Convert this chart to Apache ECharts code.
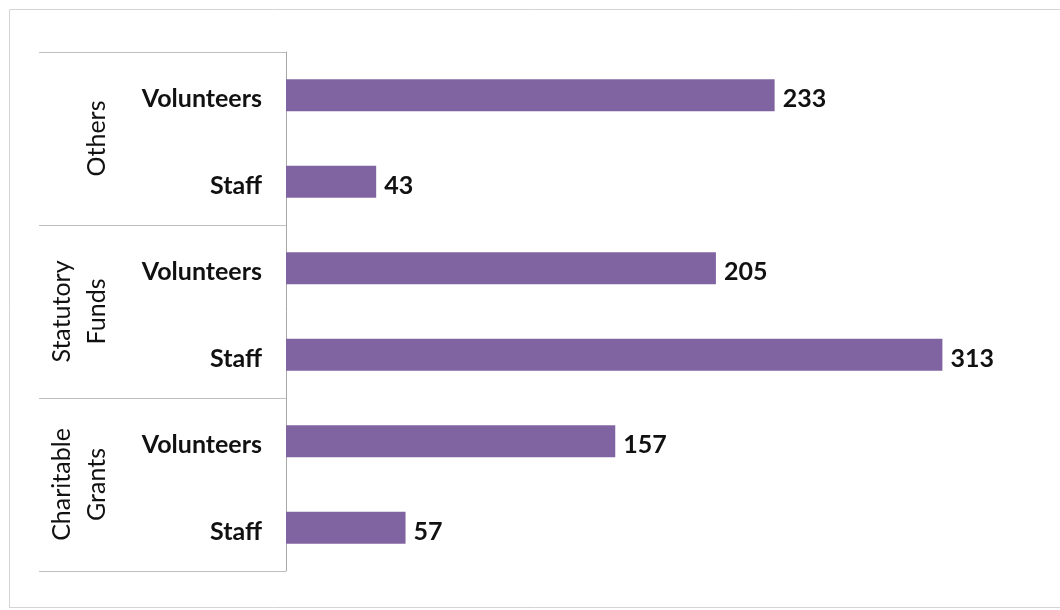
<!DOCTYPE html>
<html>
<head>
<meta charset="utf-8">
<script src="https://cdn.jsdelivr.net/npm/echarts@6/dist/echarts.min.js"></script>
<style>
  html, body { margin: 0; padding: 0; background: #fff; }
  #chart { width: 1060px; height: 610px; }
</style>
</head>
<body>
<div id="chart"></div>
<script>
// Bottom-to-top order (category axis runs upward)
const categories = ['Staff', 'Volunteers', 'Staff', 'Volunteers', 'Staff', 'Volunteers'];
const groups = ['Charitable\nGrants', 'Statutory\nFunds', 'Others'];
const values = [57, 157, 313, 205, 43, 233];

const FONT = 'Lato';
const chart = echarts.init(document.getElementById('chart'), null, { renderer: 'canvas' });

chart.setOption({
  animation: false,
  backgroundColor: '#ffffff',
  graphic: [{
    type: 'rect',
    silent: true,
    shape: { x: 9.5, y: 9.5, width: 1060, height: 598 },
    style: { fill: 'none', stroke: '#d4d4d4', lineWidth: 1 }
  }],
  grid: { left: 286, right: 40, top: 52, bottom: 39, containLabel: false },
  xAxis: {
    type: 'value', min: 0, max: 350,
    show: false
  },
  yAxis: [{
    type: 'category',
    data: categories,
    position: 'left',
    axisLine: { show: true, lineStyle: { color: '#a6a6a6', width: 1 } },
    axisTick: { show: false },
    splitLine: { show: false },
    axisLabel: {
      margin: 24, color: '#111', fontFamily: FONT, fontWeight: 'bold', fontSize: 25,
      verticalAlign: 'top', lineHeight: 8
    }
  }, {
    type: 'category',
    data: groups,
    position: 'left',
    offset: 0,
    axisLine: { show: false },
    axisTick: { show: true, length: 247, lineStyle: { color: '#bfbfbf', width: 1 } },
    splitLine: { show: false },
    axisLabel: {
      rotate: 90, margin: 172, color: '#111', fontFamily: FONT, fontSize: 25, lineHeight: 35
    }
  }],
  series: [{
    type: 'bar',
    yAxisIndex: 0,
    data: values,
    barWidth: 32,
    itemStyle: { color: '#8064A2' },
    label: {
      show: true, position: 'right', distance: 8, offset: [0, 4],
      color: '#111', fontFamily: FONT, fontWeight: 'bold', fontSize: 25
    }
  }]
});
</script>
</body>
</html>
